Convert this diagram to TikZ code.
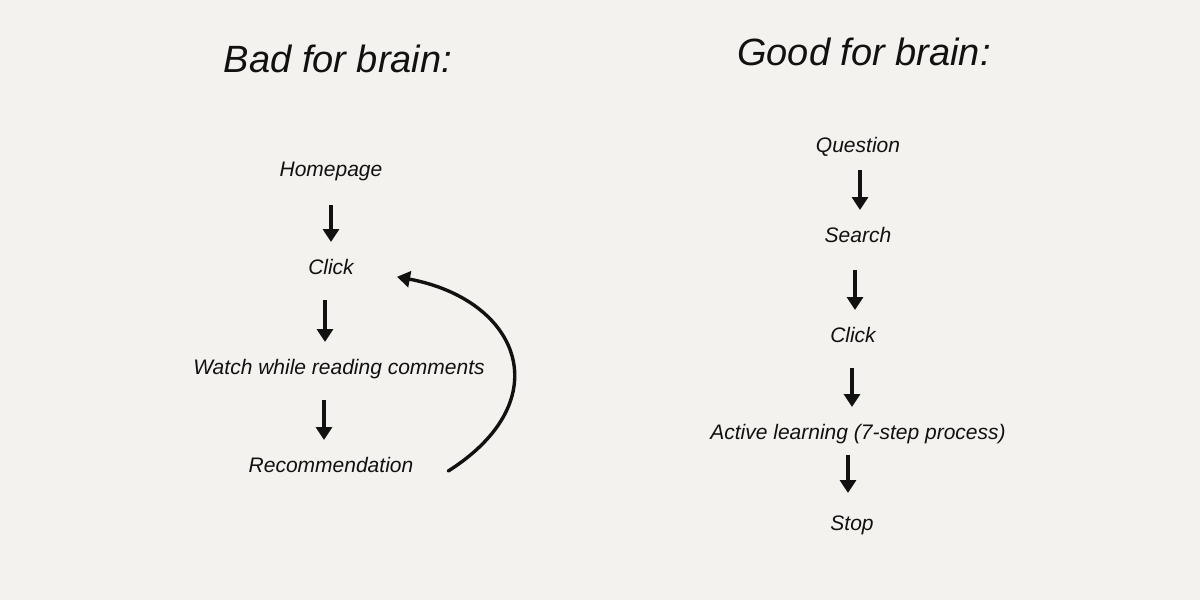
\documentclass[tikz,border=0pt]{standalone}
\usepackage{fontspec}
\setmainfont{Liberation Sans}
\usepackage{tikz}
\usetikzlibrary{positioning,arrows.meta}
\definecolor{PaperBg}{HTML}{F4F2EE}
\definecolor{InkBlack}{HTML}{111111}

\begin{document}
\begin{tikzpicture}[x=1pt, y=-1pt, >={Triangle[width=16pt,length=13pt]},
                      every node/.style={text=InkBlack, inner sep=2pt, outer sep=0pt,
                                         font=\itshape\fontsize{21}{21}\selectfont,
                                         text height=16pt, text depth=5pt},
                      headline/.style={font=\itshape\fontsize{38}{38}\selectfont, text height=28pt, text depth=8pt},
                      ink/.style={draw=InkBlack, line width=3.4pt},
                      flow/.style={ink, ->, shorten <=31pt, shorten >=27pt}]
  \fill[PaperBg] (0,0) rectangle (1200,600);
  \useasboundingbox (0,0) rectangle (1200,600);
  % left column
  \node[headline] (badtitle) at (338,62) {Bad for brain:};
  \node (home) at (331,171) {Homepage};
  \node[below=73pt of home] (clickA) {Click};
  \node[below=75pt of clickA, xshift=8pt] (watch) {Watch while reading comments};
  \node[below=73pt of watch, xshift=-8pt] (recom) {Recommendation};
  \draw[flow, shorten <=34pt] (home.center) -- (home |- clickA);
  \draw[flow] ([xshift=-6pt]clickA.center) -- ([xshift=-6pt]clickA |- watch);
  \draw[flow] ([xshift=-15pt]watch.center) -- ([xshift=-15pt]watch |- recom);
  \draw[ink, ->, line cap=round, shorten >=42pt] ([xshift=33pt,yshift=-4pt]recom.east) .. controls (560,400) and (520,300) .. (clickA.east);
  % right column
  \node[headline] (goodtitle) at (864,55) {Good for brain:};
  \node (quest) at (858,147) {Question};
  \node[below=65pt of quest] (search) {Search};
  \node[below=75pt of search, xshift=-5pt] (clickB) {Click};
  \node[below=72pt of clickB, xshift=5pt] (active) {Active learning (7-step process)};
  \node[below=66pt of active, xshift=-6pt] (stop) {Stop};
  \draw[flow, shorten <=23pt] ([xshift=2pt]quest.center) -- ([xshift=2pt]quest |- search);
  \draw[flow, shorten <=33pt] ([xshift=-3pt]search.center) -- ([xshift=-3pt]search |- clickB);
  \draw[flow] ([xshift=-1pt]clickB.center) -- ([xshift=-1pt]clickB |- active);
  \draw[flow, shorten <=21pt, shorten >=32pt] ([xshift=-10pt]active.center) -- ([xshift=-10pt]active |- stop);
\end{tikzpicture}
\end{document}
